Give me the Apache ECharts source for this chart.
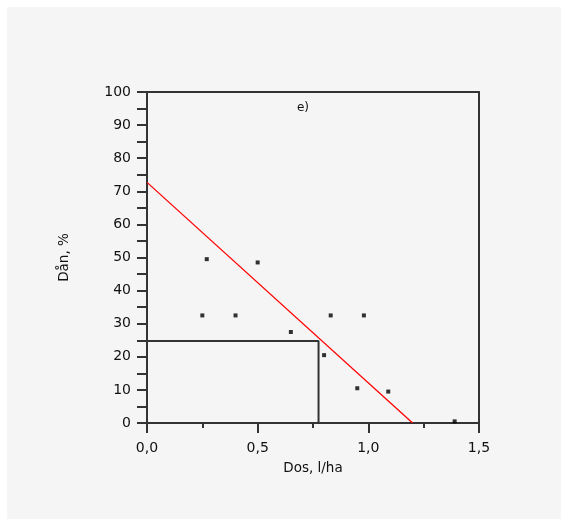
<!DOCTYPE html>
<html>
<head>
<meta charset="utf-8">
<script src="https://cdn.jsdelivr.net/npm/echarts@6/dist/echarts.min.js"></script>
<style>
html,body{margin:0;padding:0;background:#ffffff;}
#c{width:568px;height:526px;}
</style>
</head>
<body>
<div id="c"></div>
<script>
// Data
const panelTitle = 'e)';
const xAxisName = 'Dos, l/ha';
const yAxisName = 'Dån, %';
const doseX = [0.27, 0.50, 0.25, 0.40, 0.65, 0.80, 0.83, 0.98, 0.95, 1.09, 1.39];
const effectY = [49.5, 48.5, 32.5, 32.5, 27.5, 20.5, 32.5, 32.5, 10.5, 9.5, 0.5];
const regX = [0, 1.2];
const regY = [72.7, 0];
const refX = [0, 0.775, 0.775];
const refY = [24.8, 24.8, 0];

const pts = doseX.map((x, i) => [x, effectY[i]]);
const reg = regX.map((x, i) => [x, regY[i]]);
const ref = refX.map((x, i) => [x, refY[i]]);

const font = 'DejaVu Sans';
const axisCol = '#333333';
const txtCol = '#111111';

const chart = echarts.init(document.getElementById('c'), null, {renderer: 'canvas'});
chart.setOption({
  backgroundColor: '#ffffff',
  animation: false,
  graphic: [{
    type: 'rect', z: -10, silent: true,
    shape: {x: 7, y: 7, width: 554, height: 512},
    style: {fill: '#f5f5f5'}
  }],
  title: {
    text: panelTitle, left: 298, top: 97, textAlign: 'center',
    textStyle: {fontFamily: font, fontSize: 12, fontWeight: 'normal', color: txtCol}
  },
  grid: {left: 147, top: 92, width: 332, height: 331, containLabel: false},
  xAxis: [{
    type: 'value', min: 0, max: 1.5, interval: 0.5,
    name: xAxisName, nameLocation: 'middle', nameGap: 38,
    nameTextStyle: {fontFamily: font, fontSize: 13.5, color: txtCol},
    axisLine: {show: true, onZero: false, lineStyle: {color: axisCol, width: 2}},
    axisTick: {show: true, length: 10, lineStyle: {color: axisCol, width: 2}},
    minorTick: {show: true, splitNumber: 2, length: 5, lineStyle: {color: axisCol, width: 2}},
    splitLine: {show: false},
    axisLabel: {margin: 18, fontFamily: font, fontSize: 14, color: txtCol,
      formatter: v => v.toFixed(1).replace('.', ',')}
  }, {
    type: 'value', position: 'top', min: 0, max: 1.5,
    axisLine: {show: true, onZero: false, lineStyle: {color: axisCol, width: 2}},
    axisTick: {show: false}, axisLabel: {show: false}, splitLine: {show: false}
  }],
  yAxis: [{
    type: 'value', min: 0, max: 100, interval: 10,
    name: yAxisName, nameLocation: 'middle', nameGap: 76, nameRotate: 90,
    nameTextStyle: {fontFamily: font, fontSize: 13.5, color: txtCol},
    axisLine: {show: true, onZero: false, lineStyle: {color: axisCol, width: 2}},
    axisTick: {show: true, length: 10, lineStyle: {color: axisCol, width: 2}},
    minorTick: {show: true, splitNumber: 2, length: 10, lineStyle: {color: axisCol, width: 2}},
    splitLine: {show: false},
    axisLabel: {margin: 16, fontFamily: font, fontSize: 14, color: txtCol}
  }, {
    type: 'value', position: 'right', min: 0, max: 100,
    axisLine: {show: true, onZero: false, lineStyle: {color: axisCol, width: 2}},
    axisTick: {show: false}, axisLabel: {show: false}, splitLine: {show: false}
  }],
  series: [{
    type: 'line', data: ref, symbol: 'none',
    lineStyle: {color: axisCol, width: 2}, z: 2
  }, {
    type: 'line', data: reg, symbol: 'none',
    lineStyle: {color: '#ff0000', width: 1.3}, z: 3
  }, {
    type: 'scatter', data: pts, symbol: 'rect', symbolSize: 4,
    itemStyle: {color: '#000000'}, z: 4
  }]
});
</script>
</body>
</html>
